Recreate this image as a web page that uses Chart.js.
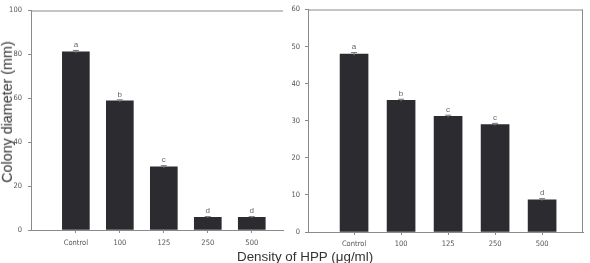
<html>
<head>
  <meta charset="UTF-8">
  <script src="https://cdn.jsdelivr.net/npm/chart.js"></script>
  <title>Colony diameter</title>
  <style>
    body { margin: 0; background: #fff; width: 590px; height: 263px; overflow: hidden; position: relative; }
    canvas { position: absolute; top: 0; }
    #left { left: 0; }
    #right { left: 290px; }
    .title { position: absolute; font-family: 'Liberation Sans', Arial, sans-serif; font-weight: normal; color: #333; white-space: nowrap; line-height: 1; }
    #ytitle { left: 7px; top: 112px; font-size: 14.3px; transform: translate(-50%, -50%) rotate(-90deg); }
    #xtitle { left: 237px; top: 250px; font-size: 13.4px; }
  </style>
</head>
<body>
<canvas id="left" width="290" height="250"></canvas>
<canvas id="right" width="300" height="250"></canvas>
<div class="title" id="ytitle">Colony diameter (mm)</div>
<div class="title" id="xtitle">Density of HPP (μg/ml)</div>

<script>
const categories = ['Control', '100', '125', '250', '500'];

const leftValues = [81.2, 58.8, 28.8, 5.8, 5.8];
const leftErrors = [0.6, 0.5, 0.5, 0.3, 0.3];
const leftLetters = ['a', 'b', 'c', 'd', 'd'];
const leftTicks = [0, 20, 40, 60, 80, 100];

const rightValues = [48.0, 35.5, 31.2, 29.0, 8.7];
const rightErrors = [0.4, 0.3, 0.3, 0.3, 0.3];
const rightLetters = ['a', 'b', 'c', 'c', 'd'];
const rightTicks = [0, 10, 20, 30, 40, 50, 60];

const axisColor = '#8a8a8a';
const tickFont = { family: "'Liberation Sans Narrow', 'DejaVu Sans Condensed', Arial, sans-serif", size: 7.5 };

// top line, optional right border, error bars and letters
const extras = {
  id: 'extras',
  afterDatasetsDraw(chart, args, opts) {
    const ctx = chart.ctx;
    const area = chart.chartArea;
    const x = chart.scales.x, y = chart.scales.y;
    ctx.save();
    ctx.strokeStyle = axisColor;
    ctx.lineWidth = 1;
    ctx.beginPath();
    ctx.moveTo(area.left, area.top + 0.5);
    ctx.lineTo(area.right, area.top + 0.5);
    if (opts.rightBorder) {
      ctx.moveTo(area.right - 0.5, area.top);
      ctx.lineTo(area.right - 0.5, area.bottom);
    }
    ctx.stroke();

    ctx.strokeStyle = '#777';
    ctx.fillStyle = '#666';
    ctx.font = "8px 'Liberation Sans Narrow', Arial, sans-serif";
    ctx.textAlign = 'center';
    ctx.textBaseline = 'bottom';
    opts.values.forEach((v, i) => {
      const px = x.getPixelForValue(i + 1);
      const top = y.getPixelForValue(v + opts.errors[i]);
      const bot = y.getPixelForValue(v - opts.errors[i]);
      ctx.beginPath();
      ctx.moveTo(px - 3, top); ctx.lineTo(px + 3, top);
      ctx.moveTo(px, top); ctx.lineTo(px, bot);
      ctx.stroke();
      ctx.fillText(opts.letters[i], px, top - 1.5);
    });
    ctx.restore();
  }
};

function makeChart(id, values, errors, letters, ticks, cfg) {
  return new Chart(document.getElementById(id), {
    type: 'bar',
    data: {
      datasets: [{
        data: values.map((v, i) => ({ x: i + 1, y: v })),
        backgroundColor: '#2b2b30',
        borderWidth: 0,
        barThickness: cfg.barWidth
      }]
    },
    plugins: [extras],
    options: {
      responsive: false,
      animation: false,
      layout: { padding: { left: 0, right: cfg.padRight, top: 9, bottom: 0 } },
      plugins: {
        legend: { display: false },
        tooltip: { enabled: false },
        extras: { values: values, errors: errors, letters: letters, rightBorder: cfg.rightBorder }
      },
      scales: {
        x: {
          type: 'linear',
          min: cfg.xMin,
          max: cfg.xMax,
          offset: false,
          afterBuildTicks: (s) => { s.ticks = categories.map((c, i) => ({ value: i + 1 })); },
          afterFit: (s) => { s.height = cfg.xHeight; },
          ticks: {
            callback: (v) => categories[v - 1],
            color: '#555',
            font: tickFont,
            padding: cfg.xPad,
            maxRotation: 0,
            autoSkip: false
          },
          grid: { drawOnChartArea: false, tickLength: 3, color: axisColor, offset: false },
          border: { color: axisColor }
        },
        y: {
          min: ticks[0],
          max: ticks[ticks.length - 1],
          afterBuildTicks: (s) => { s.ticks = ticks.map(t => ({ value: t })); },
          afterFit: (s) => { s.width = cfg.yWidth; },
          ticks: { color: '#555', font: tickFont, padding: cfg.yPad },
          grid: { drawOnChartArea: false, tickLength: 3, color: axisColor },
          border: { color: axisColor }
        }
      }
    }
  });
}

makeChart('left', leftValues, leftErrors, leftLetters, leftTicks,
  { xMin: -0.02, xMax: 5.71, barWidth: 27, padRight: 7, xHeight: 20, yWidth: 31, xPad: 6, yPad: 6, rightBorder: false });
makeChart('right', rightValues, rightErrors, rightLetters, rightTicks,
  { xMin: 0.02, xMax: 5.87, barWidth: 28, padRight: 7, xHeight: 18, yWidth: 18, xPad: 5, yPad: 5, rightBorder: true });
</script>
</body>
</html>
